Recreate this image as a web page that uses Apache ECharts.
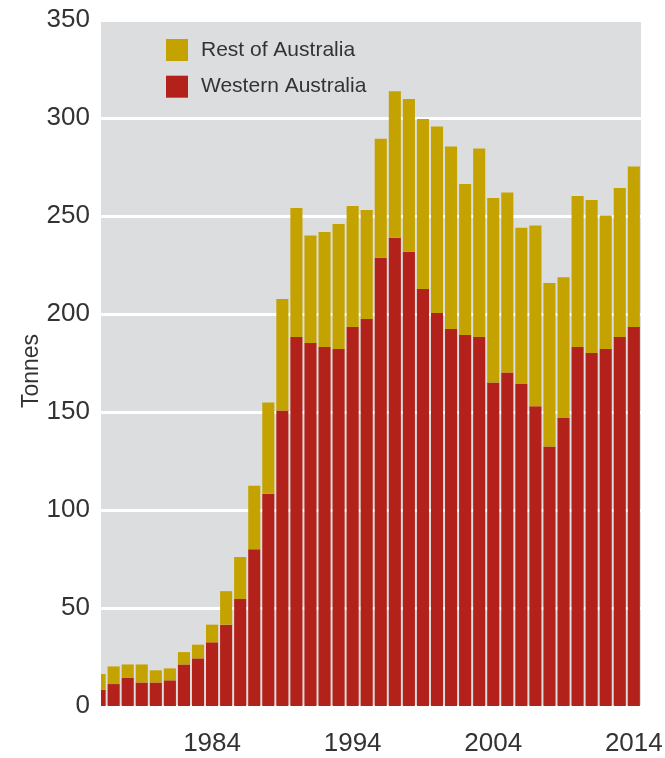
<!DOCTYPE html>
<html>
<head>
<meta charset="utf-8">
<script src="https://cdn.jsdelivr.net/npm/echarts@6/dist/echarts.min.js"></script>
<style>
html,body{margin:0;padding:0;background:#fff;}
#chart{width:665px;height:758px;}
</style>
</head>
<body>
<div id="chart"></div>
<script>
var years = [1976,1977,1978,1979,1980,1981,1982,1983,1984,1985,1986,1987,1988,1989,1990,1991,1992,1993,1994,1995,1996,1997,1998,1999,2000,2001,2002,2003,2004,2005,2006,2007,2008,2009,2010,2011,2012,2013,2014];
var westernAustralia = [8.3,11.2,14.3,12.0,12.0,13.1,21.2,24.3,32.5,41.5,54.6,80.0,108.3,150.8,188.3,185.2,183.2,182.1,193.4,197.4,228.7,238.9,231.8,212.8,200.5,192.3,189.3,188.3,165.1,170.2,164.3,152.9,132.4,146.9,183.2,180.1,182.1,188.3,193.4];
var restOfAustralia = [8.0,9.0,6.9,9.2,6.2,6.1,6.3,7.0,9.0,17.1,21.4,32.4,46.6,56.9,65.8,54.8,58.6,63.8,61.7,55.7,60.7,74.7,77.9,86.7,95.1,93.2,77.0,96.2,94.1,91.8,79.7,92.2,83.4,71.8,77.0,78.1,68.1,76.0,81.9];
var xTickLabels = [1984,1994,2004,2014];
var yTicks = {min:0, max:350, interval:50};

var FONT = '"Liberation Sans",Arial,sans-serif';
var TEXT = '#333333';
var BAR_RATIO = 0.86;

// stacked segments: [year, bottom, top]
var waData = years.map(function(y,i){ return [y, 0, westernAustralia[i]]; });
var restData = years.map(function(y,i){ return [y, westernAustralia[i], westernAustralia[i] + restOfAustralia[i]]; });

function renderBar(params, api){
  var year = api.value(0), lo = api.value(1), hi = api.value(2);
  var p0 = api.coord([year, lo]);
  var p1 = api.coord([year, hi]);
  var w = api.size([1, 0])[0] * BAR_RATIO;
  var cs = params.coordSys;
  var rect = echarts.graphic.clipRectByRect(
    {x: p0[0] - w / 2, y: p1[1], width: w, height: p0[1] - p1[1]},
    {x: cs.x, y: cs.y, width: cs.width, height: cs.height}
  );
  return rect && {type:'rect', shape:rect, style:{fill:api.visual('color')}};
}

var chart = echarts.init(document.getElementById('chart'), null, {renderer:'canvas'});
chart.setOption({
  animation:false,
  textStyle:{fontFamily:FONT},
  grid:{left:101,right:24,top:20,bottom:52,show:true,backgroundColor:'#dcdddf',borderWidth:0,containLabel:false,outerBoundsMode:'none'},
  legend:{
    orient:'vertical', left:166, top:39, padding:0,
    itemWidth:22, itemHeight:22, itemGap:14.7, icon:'rect',
    data:['Rest of Australia','Western Australia'],
    textStyle:{fontFamily:FONT,fontSize:21,color:TEXT,lineHeight:22,padding:[0,0,0,8]}
  },
  xAxis:{
    type:'value', min:1976.1, max:2014.51,
    axisLine:{show:false}, axisTick:{show:false}, splitLine:{show:false},
    axisLabel:{customValues:xTickLabels, fontFamily:FONT, fontSize:26, color:TEXT, margin:25, formatter:function(v){return String(v);}}
  },
  yAxis:{
    type:'value', min:yTicks.min, max:yTicks.max, interval:yTicks.interval,
    name:'Tonnes', nameLocation:'middle', nameGap:58, nameRotate:90, nameMoveOverlap:false,
    nameTextStyle:{fontFamily:FONT,fontSize:23,color:TEXT,padding:[0,16,0,0]},
    axisLine:{show:false}, axisTick:{show:false},
    axisLabel:{fontFamily:FONT,fontSize:26,color:TEXT,margin:11},
    splitLine:{show:true,lineStyle:{color:'#ffffff',width:3}}
  },
  series:[
    {name:'Western Australia', type:'custom', renderItem:renderBar, clip:true,
     itemStyle:{color:'#b3221a'}, encode:{x:0, y:[1,2]}, data:waData},
    {name:'Rest of Australia', type:'custom', renderItem:renderBar, clip:true,
     itemStyle:{color:'#c4a300'}, encode:{x:0, y:[1,2]}, data:restData}
  ]
});
</script>
</body>
</html>
